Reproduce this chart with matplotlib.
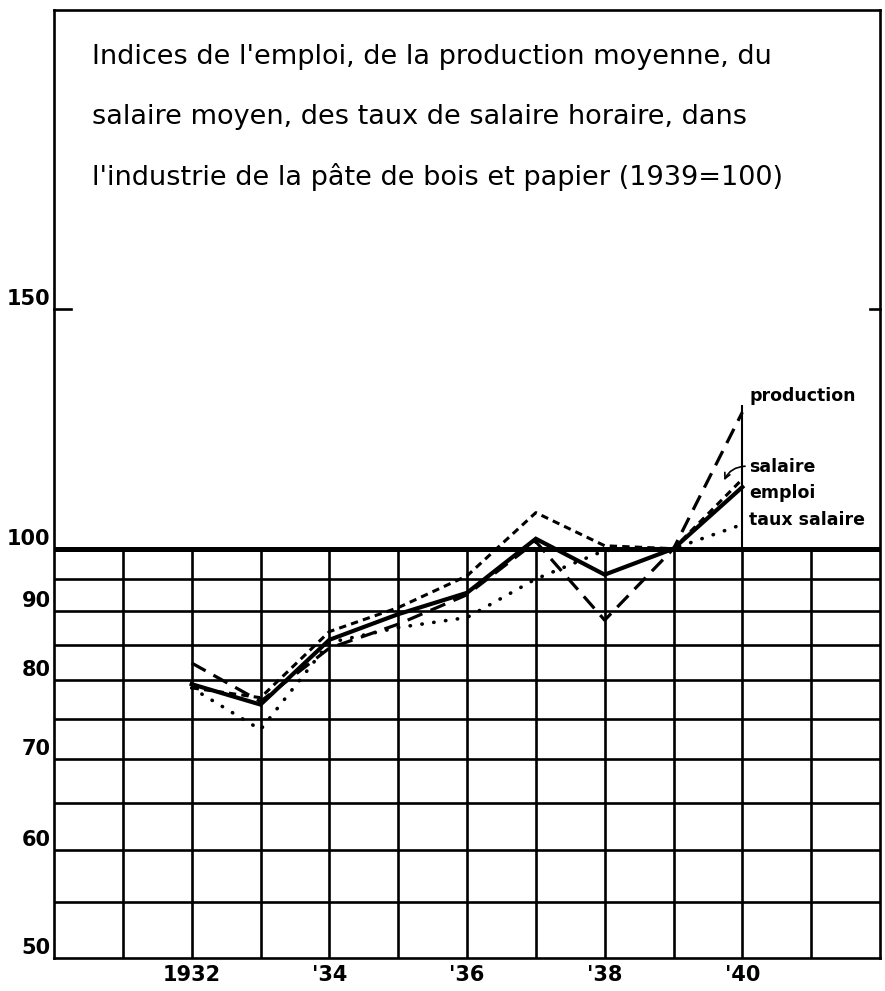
import matplotlib.pyplot as plt

years = [1932, 1933, 1934, 1935, 1936, 1937, 1938, 1939, 1940]
emploi = [79.5, 76.8, 85.7, 89.5, 92.8, 101.7, 95.7, 100, 111.0]
production = [82.4, 77.2, 84.5, 88.0, 92.5, 101.2, 88.6, 100, 126.0]
salaire = [79.0, 77.7, 86.9, 90.5, 95.5, 106.3, 100.5, 100, 112.5]
taux_salaire = [79.0, 73.6, 85.3, 87.5, 89.0, 95.0, 99.7, 100, 104.2]

grid_years = list(range(1931, 1942))
grid_values = [55, 60, 65, 70, 75, 80, 85, 90, 95]
ytick_values = [50, 60, 70, 80, 90, 100, 150]
xtick_years = [1932, 1934, 1936, 1938, 1940]
xtick_labels = ["1932", "'34", "'36", "'38", "'40"]
title_lines = [
    "Indices de l'emploi, de la production moyenne, du",
    "salaire moyen, des taux de salaire horaire, dans",
    "l'industrie de la pâte de bois et papier (1939=100)",
]

fig = plt.figure(figsize=(8.85, 9.91), dpi=100)
ax = fig.add_axes([54 / 885, 1 - 958 / 991, 826 / 885, 948 / 991])
ax.set_yscale("log")
ax.set_xlim(1930, 1942)
ax.set_ylim(50, 249)

# grid only in the lower part (50..100)
ax.hlines(grid_values, 1930, 1942, color="black", lw=1.9, zorder=1)
ax.vlines(grid_years, 50, 100, color="black", lw=1.9, zorder=1)
ax.axhline(100, color="black", lw=3.6, zorder=2)

for sp in ax.spines.values():
    sp.set_linewidth(1.9)

ax.set_xticks([])
ax.set_yticks([])
ax.minorticks_off()

# tick marks at 150
ax.plot([1930, 1930.25], [150, 150], color="black", lw=1.9, clip_on=False)
ax.plot([1941.85, 1942], [150, 150], color="black", lw=1.9, clip_on=False)

for v in ytick_values:
    ax.text(1929.95, v, str(v), ha="right", va="bottom", fontsize=15,
            fontweight="bold")
for yr, lab in zip(xtick_years, xtick_labels):
    ax.text(yr, 49.4, lab, ha="center", va="top", fontsize=15,
            fontweight="bold")

ax.plot(years, emploi, color="black", lw=3.0, solid_joinstyle="miter", zorder=5)
ax.plot(years, production, color="black", lw=2.3, dashes=(5, 2.8), zorder=4)
ax.plot(years, salaire, color="black", lw=2.2, dashes=(2.4, 1.7), zorder=4)
ax.plot(years, taux_salaire, color="black", lw=2.6, dashes=(0.1, 3.2),
        dash_capstyle="round", zorder=4)

# leader line for 1940
ax.vlines(1940, 100, production[-1] + 1.5, color="black", lw=1.5, zorder=3)

lab_x = 1940.1
ax.text(lab_x, 129.5, "production", fontsize=12.5, fontweight="bold", va="center")
ax.text(lab_x, 114.8, "salaire", fontsize=12.5, fontweight="bold", va="center")
ax.text(lab_x, 109.8, "emploi", fontsize=12.5, fontweight="bold", va="center")
ax.text(lab_x, 104.9, "taux salaire", fontsize=12.5, fontweight="bold", va="center")
ax.annotate("", xy=(1939.72, 111.8), xytext=(1940.08, 115.0),
            arrowprops=dict(arrowstyle="->", lw=1.2, color="black",
                            connectionstyle="arc3,rad=0.35"))

for i, line in enumerate(title_lines):
    fig.text(92 / 885, 1 - (57 + 60 * i) / 991, line, fontsize=19.5,
             va="center", ha="left")

fig.savefig("out.png", dpi=100, facecolor="white")
